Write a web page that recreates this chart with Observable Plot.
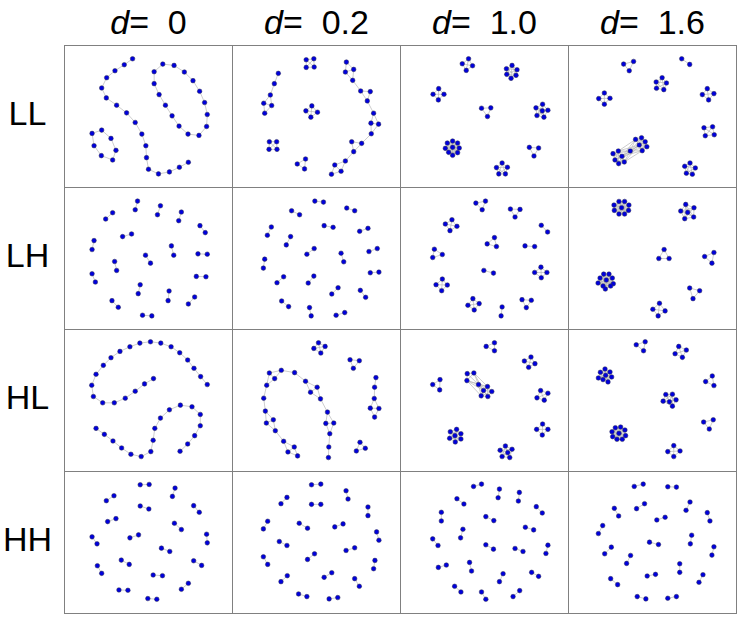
<!DOCTYPE html>
<html><head><meta charset="utf-8">
<script src="https://cdn.jsdelivr.net/npm/d3@7"></script>
<script src="https://cdn.jsdelivr.net/npm/@observablehq/plot@0.6"></script>
<style>html,body{margin:0;padding:0;background:#fff;overflow:hidden}</style>
</head><body><div id="chart"></div><script>
// Facet labels
const rows = ["LL", "LH", "HL", "HH"];
const cols = ["0", "0.2", "1.0", "1.6"];

// Each panel: list of groups (connected components), each a list of [x, y] points (panel coords, y down)
const LL_0 = [
 [[205,40],[180,58],[152,76],[127,97],[112,128],[126,158],[157,180],[187,203],[213,232],[233,267],[245,302],[247,338],[253,373],[283,387],[316,381],[346,367],[373,352]],
 [[296,56],[330,60],[361,80],[387,106],[407,138],[422,172],[430,208],[428,244],[405,271],[372,267],[345,243],[324,212],[304,180],[285,148],[270,115],[270,79]],
 [[83,265],[112,255],[140,280],[155,316],[145,345],[111,332],[89,302]]
];
const LL_02 = [
 [[222,43],[245,40],[222,66],[246,65]],
 [[138,84],[126,115],[114,149],[94,174],[118,181],[97,204]],
 [[239,182],[221,197],[256,201],[236,216]],
 [[111,290],[133,290],[110,313],[134,313]],
 [[220,342],[195,357],[217,372]],
 [[343,50],[365,72],[340,80],[362,105],[386,137],[415,139],[406,167],[425,204],[417,234],[440,237],[418,266],[389,295],[359,290],[365,320],[340,348],[308,360],[327,379],[298,388]]
];
const LL_10 = [
 [[205,40],[186,55],[217,61],[198,75]],
 [[336,60],[319,70],[351,73],[320,87],[348,90],[333,99]],
 [[115,130],[98,147],[131,147],[114,164]],
 [[244,189],[272,188],[262,214]],
 [[428,177],[408,188],[444,195],[427,197],[411,211],[432,216]],
 [[157,288],[141,294],[172,294],[135,310],[157,307],[177,309],[145,322],[172,323],[157,331]],
 [[388,307],[416,309],[402,333]],
 [[306,354],[289,368],[322,367],[296,387],[316,387]]
];
const LL_16 = [
 [[341,40],[365,57]],
 [[166,56],[196,48],[183,76]],
 [[282,97],[264,110],[295,113],[265,129],[287,133]],
 [[108,143],[91,160],[125,159],[108,177]],
 [[418,130],[403,148],[438,145],[422,164]],
 [[408,248],[434,245],[412,272],[439,269]],
 [[150,318],[134,326],[161,334],[140,345],[168,351],[151,356],[186,318],[202,283],[220,278],[231,290],[213,300],[236,305],[222,317]],
 [[366,354],[350,364],[382,369],[355,385],[373,388]]
];
const LH_0 = [
 [[220,41],[213,67]],[[289,55],[280,82]],[[145,76],[124,95]],[[352,74],[344,100]],
 [[408,115],[424,136]],[[175,148],[202,140]],[[89,160],[83,187]],[[322,176],[329,204]],
 [[402,200],[430,201]],[[244,204],[259,228]],[[151,223],[157,250]],[[83,260],[93,285]],
 [[397,268],[426,269]],[[228,293],[222,320]],[[315,312],[312,341]],[[143,341],[162,361]],
 [[392,330],[373,351]],[[235,385],[263,387]]
];
const LH_02 = [
 [[248,41],[274,44]],[[344,62],[368,70]],[[178,70],[202,82]],[[117,119],[105,144]],
 [[276,115],[303,120]],[[383,132],[408,123]],[[175,148],[162,173]],[[246,184],[224,201]],
 [[327,198],[335,224]],[[411,193],[436,184]],[[97,216],[93,243]],[[154,269],[134,287]],
 [[245,267],[228,288]],[[415,257],[441,255]],[[318,302],[299,321]],[[385,310],[401,331]],
 [[148,342],[169,359]],[[232,362],[237,387]],[[312,385],[338,377]]
];
const LH_10 = [
 [[227,47],[256,41],[246,67]],
 [[331,65],[360,66],[345,89]],
 [[155,97],[135,110],[170,117],[149,130]],
 [[424,114],[443,134]],
 [[283,151],[261,170],[289,178]],
 [[375,176],[404,178]],
 [[102,186],[97,211],[126,202]],
 [[251,250],[280,258]],
 [[423,240],[404,256],[441,256],[424,272]],
 [[126,276],[107,293],[141,294],[124,311]],
 [[218,335],[203,355],[237,350],[222,369]],
 [[366,338],[394,340],[379,362]],
 [[306,360],[303,387]]
];
const LH_16 = [
 [[152,42],[169,42],[137,53],[182,53],[160,61],[138,69],[181,69],[152,80],[169,80]],
 [[353,51],[378,61],[338,71],[359,75],[377,89],[350,94]],
 [[288,187],[272,214],[303,214]],
 [[438,196],[410,208],[432,228]],
 [[106,261],[122,261],[95,273],[132,273],[114,279],[89,288],[135,290],[104,297],[127,297],[111,306]],
 [[365,303],[395,311],[375,335]],
 [[274,349],[254,367],[291,372],[270,387]]
];
const HL_0 = [
 [[430,166],[410,142],[390,117],[371,92],[347,70],[321,52],[290,41],[259,37],[227,41],[197,52],[167,66],[140,85],[117,108],[95,135],[82,168],[87,202],[115,221],[150,221],[183,207],[213,186],[241,164],[268,148]],
 [[95,298],[120,316],[146,336],[172,357],[200,376],[231,383],[260,368],[267,334],[272,298],[289,267],[316,242],[349,228],[384,233],[409,256],[409,290],[392,320],[371,345],[348,367]]
];
const HL_02 = [
 [[259,40],[245,57],[279,51],[266,71]],
 [[354,91],[382,94],[364,117]],
 [[111,131],[147,123],[187,130],[127,148],[103,168],[220,156],[255,174],[235,189],[265,209],[94,207],[99,246],[123,272],[102,282],[286,249],[305,282],[281,283],[129,305],[293,314],[154,337],[186,354],[167,369],[196,381],[290,354],[289,386]],
 [[432,145],[428,174],[427,208],[415,237],[441,238],[428,264]],
 [[384,340],[373,366],[400,358]]
];
const HL_10 = [
 [[283,40],[258,51],[283,64]],
 [[393,83],[373,95],[405,103],[386,114]],
 [[119,151],[97,166],[118,182]],
 [[201,133],[221,131],[200,154],[235,166],[262,172],[250,184],[275,187],[243,200],[263,202]],
 [[422,184],[444,192],[411,206],[433,213]],
 [[150,308],[169,301],[182,314],[148,328],[164,320],[165,339],[182,330]],
 [[428,285],[410,301],[444,301],[427,318]],
 [[316,351],[300,364],[336,361],[323,371],[306,383],[329,386]]
];
const HL_16 = [
 [[231,37],[204,46],[226,64]],
 [[332,51],[355,62],[321,73],[343,84]],
 [[110,119],[96,129],[125,128],[90,146],[112,138],[104,151],[130,143],[119,158]],
 [[433,140],[413,157],[438,169]],
 [[293,196],[313,195],[285,216],[304,218],[324,212],[313,231]],
 [[407,279],[436,272],[424,300]],
 [[141,296],[157,294],[170,303],[131,308],[152,313],[172,320],[133,323],[146,331],[162,331]],
 [[317,350],[299,368],[336,366],[317,383]]
];
const HH_0 = [
 [[228,40],[255,39]],[[333,50],[325,75]],[[149,73],[126,88]],[[228,104],[254,113]],
 [[389,103],[406,123]],[[155,142],[130,151]],[[331,156],[352,175]],[[83,197],[98,218]],
 [[223,191],[197,200]],[[428,189],[430,215]],[[292,231],[317,241]],[[171,267],[195,280]],
 [[389,269],[413,283]],[[99,284],[112,307]],[[267,312],[295,314]],[[373,337],[352,355]],
 [[164,357],[191,358]],[[251,383],[278,385]]
];
const HH_02 = [
 [[238,40],[266,38]],[[342,58],[348,83]],[[164,78],[146,97]],[[238,99],[266,99]],
 [[408,107],[408,133]],[[106,150],[93,173]],[[201,156],[226,171]],[[333,158],[308,167]],
 [[434,182],[441,207]],[[141,211],[164,223]],[[368,230],[342,238]],[[247,248],[226,265]],
 [[93,257],[106,280]],[[429,268],[425,293]],[[299,305],[276,319]],[[165,314],[146,332]],
 [[368,323],[382,346]],[[199,369],[224,377]],[[317,380],[291,384]]
];
const HH_10 = [
 [[244,38],[220,45]],[[298,53],[294,79]],[[358,63],[355,89]],[[170,82],[191,98]],
 [[409,106],[427,125]],[[123,123],[123,149]],[[257,136],[281,148]],[[376,168],[401,176]],
 [[188,174],[181,200]],[[97,203],[113,223]],[[257,221],[280,234]],[[345,232],[369,241]],
 [[444,222],[438,247]],[[138,282],[114,289]],[[208,274],[214,300]],[[395,304],[416,316]],
 [[309,308],[298,332]],[[163,346],[182,363]],[[244,363],[257,385]],[[359,359],[339,377]]
];
const HH_16 = [
 [[225,38],[198,45]],[[299,46],[325,47]],[[138,111],[151,134]],[[229,97],[205,112]],
 [[366,92],[354,117]],[[418,124],[426,149]],[[291,138],[266,146]],[[103,163],[90,187]],
 [[371,192],[367,218]],[[244,213],[271,220]],[[438,227],[432,252]],[[129,228],[109,248]],
 [[187,253],[175,277]],[[335,278],[335,304]],[[262,310],[237,315]],[[405,311],[393,334]],
 [[127,323],[148,341]],[[207,377],[233,384]],[[299,382],[325,377]]
];

const panels = {
  LL: [LL_0, LL_02, LL_10, LL_16],
  LH: [LH_0, LH_02, LH_10, LH_16],
  HL: [HL_0, HL_02, HL_10, HL_16],
  HH: [HH_0, HH_02, HH_10, HH_16]
};
// link reach within a group (chains link neighbours, clusters are cliques)
const reach = {"0": 42, "0.2": 48, "1.0": 70, "1.6": 70};

const points = [], links = [];
rows.forEach(r => cols.forEach((c, ci) => {
  panels[r][ci].forEach(grp => {
    grp.forEach(([x, y]) => points.push({row: r, col: c, x, y}));
    for (let i = 0; i < grp.length; i++)
      for (let j = i + 1; j < grp.length; j++) {
        const [x1, y1] = grp[i], [x2, y2] = grp[j];
        if (Math.hypot(x2 - x1, y2 - y1) < reach[c])
          links.push({row: r, col: c, x1, y1, x2, y2});
      }
  });
}));

const chart = Plot.plot({
  width: 747, height: 622,
  marginLeft: 63, marginRight: 10, marginTop: 44, marginBottom: 8,
  style: {fontFamily: "'Liberation Sans', Arial, Helvetica, sans-serif", background: "#fff", color: "#000"},
  x: {domain: [0, 506], axis: null},
  y: {domain: [0, 428], reverse: true, axis: null},
  fx: {domain: cols, padding: 0},
  fy: {domain: rows, padding: 0},
  marks: [
    Plot.frame({stroke: "#808080", strokeWidth: 1}),
    Plot.link(links, {x1: "x1", y1: "y1", x2: "x2", y2: "y2", fx: "col", fy: "row", stroke: "#b8b8b8", strokeWidth: 0.7}),
    Plot.dot(points, {x: "x", y: "y", fx: "col", fy: "row", r: 2.3, fill: "#0000dc", stroke: "#303050", strokeWidth: 0.5}),
    Plot.axisFx({anchor: "top", label: null, tickSize: 0, tickPadding: 12, fontSize: 34}),
    Plot.axisFy({anchor: "left", label: null, tickSize: 0, tickPadding: 37, fontSize: 34, textAnchor: "middle", dy: -2})
  ]
});
document.getElementById("chart").appendChild(chart);

// italic "d" in the column headers
const NS = "http://www.w3.org/2000/svg";
chart.querySelectorAll('[aria-label="fx-axis tick label"] text').forEach(t => {
  const v = t.textContent;
  t.textContent = "";
  const a = document.createElementNS(NS, "tspan");
  a.setAttribute("font-style", "italic");
  a.textContent = "d";
  const b = document.createElementNS(NS, "tspan");
  b.textContent = "=\u00a0\u00a0" + v;
  t.appendChild(a); t.appendChild(b);
});
</script></body></html>
